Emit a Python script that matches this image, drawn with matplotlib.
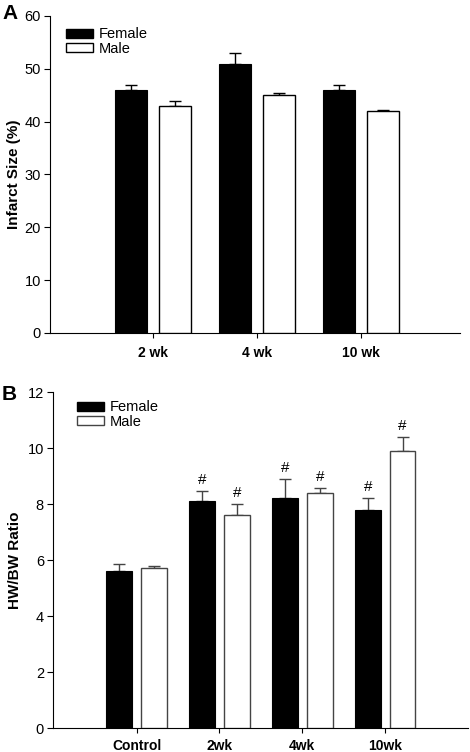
import numpy as np
import matplotlib
matplotlib.use("Agg")
from matplotlib import pyplot as plt
from matplotlib.patches import Patch

plt.rcParams['font.family'] = ['Liberation Sans', 'DejaVu Sans']

# panel A data
inf_groups = ["2 wk", "4 wk", "10 wk"]
inf_female = [46.0, 51.0, 46.0]
inf_female_err = [1.0, 2.0, 1.0]
inf_male = [43.0, 45.0, 42.0]
inf_male_err = [1.0, 0.5, 0.2]

# panel B data
hw_groups = ["Control", "2wk", "4wk", "10wk"]
hw_female = [5.6, 8.1, 8.2, 7.8]
hw_female_err = [0.25, 0.36, 0.7, 0.4]
hw_male = [5.7, 7.6, 8.4, 9.9]
hw_male_err = [0.1, 0.4, 0.18, 0.5]
hw_female_sig = [False, True, True, True]
hw_male_sig = [False, True, True, True]


def style_axes(ax, xpad):
  ax.spines['top'].set_visible(False)
  ax.spines['right'].set_visible(False)
  ax.spines['left'].set_linewidth(0.8)
  ax.spines['bottom'].set_linewidth(0.8)
  ax.tick_params(axis='y', direction='out', length=4, width=0.8, pad=2.5,
                 labelsize=10.5)
  ax.tick_params(axis='x', direction='out', length=3.5, width=0.8, pad=xpad,
                 labelsize=10)
  for lab in ax.get_xticklabels():
    lab.set_fontweight('bold')


def draw_panel(ax, groups, fem, fem_err, mal, mal_err, edge):
  x = np.arange(1, len(groups) + 1)
  w = 0.31
  off = 0.21
  ax.bar(x - off, fem, w, color='black', edgecolor='black', linewidth=0.8,
         zorder=3)
  ax.bar(x + off, mal, w, color='white', edgecolor=edge, linewidth=1.0,
         zorder=3)
  ax.errorbar(x - off, fem, yerr=[np.zeros(len(x)), fem_err], fmt='none',
              ecolor=edge, elinewidth=1.0, capsize=4, capthick=1.0, zorder=2)
  ax.errorbar(x + off, mal, yerr=[np.zeros(len(x)), mal_err], fmt='none',
              ecolor=edge, elinewidth=1.0, capsize=4, capthick=1.0, zorder=2)
  ax.set_xticks(x)
  ax.set_xticklabels(groups)
  return x, off


fig = plt.figure(figsize=(4.7, 7.52), dpi=100)

# ---- panel A
ax1 = fig.add_axes([50 / 470, 1 - 333 / 752, 410 / 470, 317 / 752])
draw_panel(ax1, inf_groups, inf_female, inf_female_err, inf_male,
           inf_male_err, 'black')
ax1.set_xlim(0.01, 3.95)
ax1.set_ylim(0, 60)
ax1.set_yticks(np.arange(0, 61, 10))
ax1.set_ylabel("Infarct Size (%)", fontsize=11, fontweight='bold', labelpad=2.5)
style_axes(ax1, 6)
handles = [Patch(facecolor='black', edgecolor='black', label='Female'),
           Patch(facecolor='white', edgecolor='black', label='Male')]
ax1.legend(handles=handles, loc='upper left', bbox_to_anchor=(59 / 470, 1 - 20 / 752),
           bbox_transform=fig.transFigure, frameon=False, fontsize=10.5,
           handlelength=1.85, handleheight=0.55, labelspacing=0.05,
           handletextpad=0.4, borderpad=0.0)
fig.text(2 / 470, 1 - 4 / 752, "A", fontsize=15, fontweight='bold', va='top')

# ---- panel B
ax2 = fig.add_axes([53 / 470, 1 - 728 / 752, 415 / 470, 336 / 752])
x, off = draw_panel(ax2, hw_groups, hw_female, hw_female_err, hw_male,
                    hw_male_err, '#444444')
for i in range(len(x)):
  if hw_female_sig[i]:
    ax2.annotate("#", (x[i] - off, hw_female[i] + hw_female_err[i]),
                 xytext=(0, 3), textcoords='offset points', ha='center',
                 va='bottom', fontsize=11)
  if hw_male_sig[i]:
    ax2.annotate("#", (x[i] + off, hw_male[i] + hw_male_err[i]),
                 xytext=(0, 3), textcoords='offset points', ha='center',
                 va='bottom', fontsize=11)
ax2.set_xlim(-0.01, 5.0)
ax2.set_ylim(0, 12)
ax2.set_yticks(np.arange(0, 13, 2))
ax2.set_ylabel("HW/BW Ratio", fontsize=11, fontweight='bold', labelpad=4)
style_axes(ax2, 4.5)
handles = [Patch(facecolor='black', edgecolor='black', label='Female'),
           Patch(facecolor='white', edgecolor='#444444', label='Male')]
ax2.legend(handles=handles, loc='upper left', bbox_to_anchor=(70 / 470, 1 - 393 / 752),
           bbox_transform=fig.transFigure, frameon=False, fontsize=10.5,
           handlelength=1.85, handleheight=0.55, labelspacing=0.05,
           handletextpad=0.4, borderpad=0.0)
fig.text(2 / 470, 1 - 385 / 752, "B", fontsize=15, fontweight='bold', va='top')

fig.savefig("out.png", dpi=100)
